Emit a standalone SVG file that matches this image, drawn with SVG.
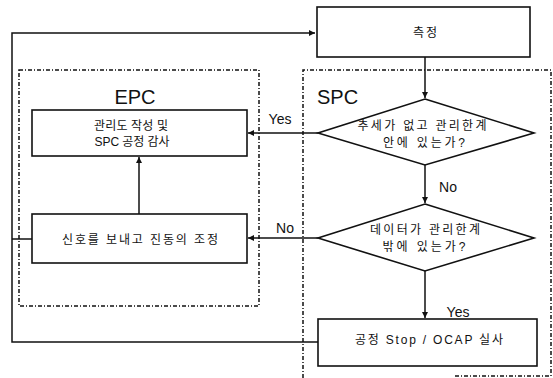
<svg xmlns="http://www.w3.org/2000/svg" width="553" height="378" viewBox="0 0 553 378">
<style>
.bg{fill:#ffffff}
.box{fill:#ffffff;stroke:#111;stroke-width:1.6}
.region{fill:none;stroke:#111;stroke-width:1.5;stroke-dasharray:4 2 1 2}
.conn{fill:none;stroke:#111;stroke-width:1.5}
.t{font-family:"Liberation Sans","Noto Sans CJK KR",sans-serif;font-size:12px;fill:#111;text-anchor:middle}
.lbl{font-family:"Liberation Sans","Noto Sans CJK KR",sans-serif;font-size:14px;fill:#111}
.big{font-family:"Liberation Sans",sans-serif;font-size:20px;fill:#111}
</style>
<defs>
<marker id="ah" viewBox="0 0 10 10" refX="10" refY="5" markerWidth="6" markerHeight="6" orient="auto" markerUnits="userSpaceOnUse">
<path d="M0,0 L10,5 L0,10 z" fill="#111"/>
</marker>
</defs>
<rect class="bg" x="0" y="0" width="553" height="378"/>

<g id="regions">
<rect id="epc-region" class="region" x="19" y="70" width="240" height="236"/>
<path id="spc-region" class="region" d="M303,378 V70 H551 V376 H453"/>
<text class="big" x="135" y="104" text-anchor="middle">EPC</text>
<text class="big" x="317" y="104">SPC</text>
</g>

<g id="connectors">
<path class="conn" d="M318,342 H12 V33 H315" marker-end="url(#ah)"/>
<path class="conn" d="M12,239 H32"/>
<path class="conn" d="M425,57 V98" marker-end="url(#ah)"/>
<path class="conn" d="M425,165 V203" marker-end="url(#ah)"/>
<path class="conn" d="M425,271 V318" marker-end="url(#ah)"/>
<path class="conn" d="M318,133 H248" marker-end="url(#ah)"/>
<path class="conn" d="M318,238 H248" marker-end="url(#ah)"/>
<path class="conn" d="M139,214 V157" marker-end="url(#ah)"/>
<text class="lbl" x="280" y="124" text-anchor="middle">Yes</text>
<text class="lbl" x="285" y="233" text-anchor="middle">No</text>
<text class="lbl" x="448" y="192" text-anchor="middle">No</text>
<text class="lbl" x="458" y="317" text-anchor="middle">Yes</text>
</g>

<g id="measure">
<rect class="box" x="317" y="7" width="213" height="50"/>
<text class="t" x="425" y="37" textLength="24" lengthAdjust="spacing">측정</text>
</g>

<g id="control-chart">
<rect class="box" x="32" y="110" width="215" height="46"/>
<text class="t" x="131" y="130" textLength="74" lengthAdjust="spacing">관리도 작성 및</text>
<text class="t" x="132" y="146" textLength="75" lengthAdjust="spacing">SPC 공정 감사</text>
</g>

<g id="adjust">
<rect class="box" x="32" y="214" width="215" height="49"/>
<text class="t" x="140" y="244" textLength="156" lengthAdjust="spacing">신호를 보내고 진동의 조정</text>
</g>

<g id="decision1">
<polygon class="box" points="425,99 534,133 425,165 318,133"/>
<text class="t" x="422" y="130" textLength="129" lengthAdjust="spacing">추세가 없고 관리한계</text>
<text class="t" x="424" y="147" textLength="82" lengthAdjust="spacing">안에 있는가?</text>
</g>

<g id="decision2">
<polygon class="box" points="425,204 534,238 425,271 318,238"/>
<text class="t" x="425" y="234" textLength="110" lengthAdjust="spacing">데이터가 관리한계</text>
<text class="t" x="424" y="251" textLength="83" lengthAdjust="spacing">밖에 있는가?</text>
</g>

<g id="stop">
<rect class="box" x="318" y="319" width="219" height="47"/>
<text class="t" x="429" y="344" textLength="148" lengthAdjust="spacing">공정 Stop / OCAP 실사</text>
</g>
</svg>
